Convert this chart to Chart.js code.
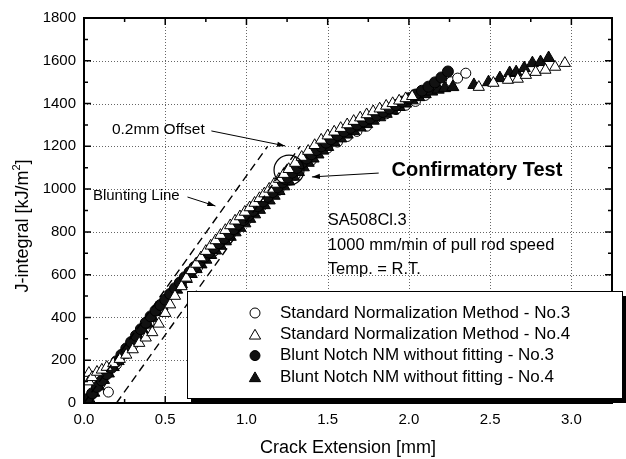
<!DOCTYPE html>
<html>
<head>
<meta charset="utf-8">
<script src="https://cdn.jsdelivr.net/npm/chart.js@4.4.1/dist/chart.umd.min.js"></script>
<style>
html,body{margin:0;padding:0;background:#fff;}
canvas{display:block;}
</style>
</head>
<body>
<canvas id="c" width="626" height="459"></canvas>
<script>
// ---------------- data ----------------
const xTickValues = [0, 0.5, 1.0, 1.5, 2.0, 2.5, 3.0];
const xTickLabels = ['0.0', '0.5', '1.0', '1.5', '2.0', '2.5', '3.0'];
const yTickValues = [0, 200, 400, 600, 800, 1000, 1200, 1400, 1600, 1800];
const yTickLabels = ['0', '200', '400', '600', '800', '1000', '1200', '1400', '1600', '1800'];

const seriesNames = [
  'Standard Normalization Method - No.3',
  'Standard Normalization Method - No.4',
  'Blunt Notch NM without fitting - No.3',
  'Blunt Notch NM without fitting - No.4'
];

// Standard Normalization Method - No.3 (open circles)
const stdNo3 = [
  [0.15,51],[0.05,40],[0.10,90],[0.20,180],[0.30,270],[0.40,370],[0.50,465],[0.60,555],
  [0.70,635],[0.80,710],[0.90,785],[1.00,855],[1.10,925],[1.20,995],[1.30,1065],[1.40,1135],
  [1.50,1192],[1.56,1220],[1.62,1246],[1.68,1270],[1.74,1294],[1.80,1335],[1.86,1352],
  [1.92,1372],[1.98,1392],[2.04,1410],[2.10,1438],[2.16,1470],[2.22,1496],[2.26,1502],
  [2.30,1519],[2.35,1542]
];

// Standard Normalization Method - No.4 (open triangles)
const stdNo4 = [
  [0.03,140],[0.03,100],[0.05,120],[0.08,145],[0.11,155],[0.14,168],[0.18,185],[0.22,205],
  [0.26,225],[0.30,250],[0.34,280],[0.38,305],[0.42,330],[0.46,370],[0.50,420],[0.53,460],
  [0.56,500],[0.60,545],[0.63,585],[0.66,620],[0.69,650],[0.72,680],[0.75,710],[0.78,735],
  [0.81,760],[0.84,785],[0.87,808],[0.90,830],[0.93,852],[0.96,872],[0.99,893],[1.02,914],
  [1.05,935],[1.08,957],[1.11,979],[1.14,1001],[1.17,1024],[1.20,1047],[1.23,1070],[1.26,1093],
  [1.30,1122],[1.34,1150],[1.38,1178],[1.42,1205],[1.46,1230],[1.50,1250],[1.54,1268],
  [1.58,1285],[1.62,1302],[1.66,1318],[1.70,1334],[1.74,1349],[1.78,1363],[1.82,1376],
  [1.86,1389],[1.90,1401],[1.94,1413],[1.98,1424],[2.02,1434],
  [2.43,1477],[2.52,1496],[2.61,1510],[2.67,1515],[2.72,1533],[2.78,1547],[2.84,1557],
  [2.90,1571],[2.96,1589]
];

// Blunt Notch NM without fitting - No.3 (filled circles)
const bnNo3 = [
  [0.02,18],[0.05,45],[0.08,75],[0.11,105],[0.14,135],[0.17,165],[0.20,195],[0.23,225],
  [0.26,255],[0.29,285],[0.32,315],[0.35,345],[0.38,375],[0.41,405],[0.44,432],[0.47,458],
  [0.50,483],[0.53,510],[0.56,537],[0.59,563],[0.62,588],[0.65,612],[0.68,636],[0.71,659],
  [0.74,681],[0.77,703],[0.80,725],[0.83,747],[0.86,769],[0.89,791],[0.92,813],[0.95,834],
  [0.98,855],[1.01,876],[1.04,898],[1.07,920],[1.10,942],[1.13,964],[1.16,986],[1.19,1008],
  [1.22,1031],[1.25,1054],[1.28,1077],[1.31,1099],[1.34,1121],[1.37,1143],[1.40,1163],
  [1.43,1182],[1.46,1200],[1.49,1217],[1.52,1233],[1.56,1252],[1.60,1270],[1.64,1286],
  [1.68,1302],[1.72,1317],[1.76,1331],[1.80,1345],[1.84,1361],[1.88,1377],[1.92,1393],
  [1.96,1409],[2.00,1425],[2.04,1442],[2.08,1460],[2.12,1479],[2.16,1499],[2.20,1522],
  [2.24,1550]
];

// Blunt Notch NM without fitting - No.4 (filled triangles)
const bnNo4 = [
  [0.03,20],[0.06,48],[0.09,78],[0.12,108],[0.15,138],[0.18,168],[0.21,196],[0.24,226],
  [0.27,256],[0.30,285],[0.33,313],[0.36,342],[0.39,370],[0.42,398],[0.45,425],[0.48,452],
  [0.51,478],[0.54,505],[0.57,530],[0.60,555],[0.63,580],[0.66,603],[0.69,626],[0.72,648],
  [0.75,670],[0.78,692],[0.81,713],[0.84,735],[0.87,756],[0.90,777],[0.93,798],[0.96,819],
  [0.99,840],[1.02,861],[1.05,882],[1.08,903],[1.11,925],[1.14,947],[1.17,969],[1.20,991],
  [1.23,1013],[1.26,1036],[1.29,1058],[1.32,1080],[1.35,1102],[1.38,1123],[1.41,1143],
  [1.44,1162],[1.47,1180],[1.50,1197],[1.54,1218],[1.58,1237],[1.62,1255],[1.66,1272],
  [1.70,1288],[1.74,1304],[1.78,1320],[1.82,1336],[1.86,1352],[1.90,1368],[1.94,1384],
  [1.98,1400],[2.02,1415],[2.06,1430],[2.10,1444],[2.14,1456],[2.18,1465],[2.22,1472],
  [2.27,1477],[2.40,1487],[2.49,1500],[2.56,1519],[2.62,1543],[2.66,1547],[2.71,1566],
  [2.76,1589],[2.81,1594],[2.86,1613]
];

// construction lines
const bluntingLine = [[0, 0], [1.13, 1200]];
const offsetLine = [[0.2, 0], [1.33, 1200]];
// confirmatory test point
const confirmPoint = [1.262, 1089];

const infoLines = ['SA508Cl.3', '1000 mm/min of pull rod speed', 'Temp. = R.T.'];

// ---------------- rendering ----------------
const FONT = '"Liberation Sans", Arial, Helvetica, sans-serif';
const toXY = arr => arr.map(p => ({x: p[0], y: p[1]}));

function drawMarker(ctx, style, filled, x, y, r) {
  ctx.beginPath();
  if (style === 'circle') {
    ctx.arc(x, y, r, 0, Math.PI * 2);
  } else {
    let rad = 0;
    ctx.moveTo(x + Math.sin(rad) * r, y - Math.cos(rad) * r);
    rad += Math.PI * 2 / 3;
    ctx.lineTo(x + Math.sin(rad) * r, y - Math.cos(rad) * r);
    rad += Math.PI * 2 / 3;
    ctx.lineTo(x + Math.sin(rad) * r, y - Math.cos(rad) * r);
  }
  ctx.closePath();
  ctx.fillStyle = filled ? '#111' : '#fff';
  ctx.fill();
  ctx.lineWidth = 1;
  ctx.strokeStyle = '#000';
  ctx.stroke();
}

function arrow(ctx, x1, y1, x2, y2) {
  ctx.beginPath();
  ctx.moveTo(x1, y1);
  ctx.lineTo(x2, y2);
  ctx.lineWidth = 1;
  ctx.strokeStyle = '#000';
  ctx.stroke();
  const a = Math.atan2(y2 - y1, x2 - x1);
  const L = 8, W = 2.6;
  ctx.beginPath();
  ctx.moveTo(x2, y2);
  ctx.lineTo(x2 - L * Math.cos(a) + W * Math.sin(a), y2 - L * Math.sin(a) - W * Math.cos(a));
  ctx.lineTo(x2 - L * Math.cos(a) - W * Math.sin(a), y2 - L * Math.sin(a) + W * Math.cos(a));
  ctx.closePath();
  ctx.fillStyle = '#000';
  ctx.fill();
}

const gridPlugin = {
  id: 'gridPlugin',
  beforeDatasetsDraw(chart) {
    const {ctx, chartArea: {left, right, top, bottom}, scales: {x, y}} = chart;
    ctx.save();
    ctx.strokeStyle = 'rgba(0,0,0,0.6)';
    ctx.lineWidth = 1;
    ctx.setLineDash([1, 2]);
    xTickValues.forEach(v => {
      if (v <= x.min || v >= x.max) return;
      const px = Math.round(x.getPixelForValue(v)) + 0.5;
      ctx.beginPath(); ctx.moveTo(px, top); ctx.lineTo(px, bottom); ctx.stroke();
    });
    yTickValues.forEach(v => {
      if (v <= y.min || v >= y.max) return;
      const py = Math.round(y.getPixelForValue(v)) + 0.5;
      ctx.beginPath(); ctx.moveTo(left, py); ctx.lineTo(right, py); ctx.stroke();
    });
    ctx.restore();
  },
  afterDatasetsDraw(chart) {
    const {ctx, chartArea: {left, right, top, bottom}, scales: {x, y}} = chart;
    ctx.save();
    ctx.strokeStyle = '#000';
    ctx.lineWidth = 2;
    ctx.setLineDash([]);
    ctx.strokeRect(left, top, right - left, bottom - top);
    ctx.lineWidth = 1.5;
    const majX = 7, minX = 4;
    const xs = [];
    for (let i = 0; i < xTickValues.length; i++) {
      xs.push([xTickValues[i], majX]);
      if (i < xTickValues.length - 1) xs.push([(xTickValues[i] + xTickValues[i + 1]) / 2, minX]);
    }
    xs.forEach(([v, len]) => {
      if (v <= x.min || v >= x.max) return;
      const px = x.getPixelForValue(v);
      ctx.beginPath();
      ctx.moveTo(px, bottom); ctx.lineTo(px, bottom - len);
      ctx.moveTo(px, top); ctx.lineTo(px, top + len);
      ctx.stroke();
    });
    const ys = [];
    for (let i = 0; i < yTickValues.length; i++) {
      ys.push([yTickValues[i], majX]);
      if (i < yTickValues.length - 1) ys.push([(yTickValues[i] + yTickValues[i + 1]) / 2, minX]);
    }
    ys.forEach(([v, len]) => {
      if (v <= y.min || v >= y.max) return;
      const py = y.getPixelForValue(v);
      ctx.beginPath();
      ctx.moveTo(left, py); ctx.lineTo(left + len, py);
      ctx.moveTo(right, py); ctx.lineTo(right - len, py);
      ctx.stroke();
    });
    ctx.restore();
  },
  afterDraw(chart) {
    const {ctx, chartArea: {left, right, top, bottom}, scales: {x, y}} = chart;
    const X = v => x.getPixelForValue(v), Y = v => y.getPixelForValue(v);
    ctx.save();
    ctx.fillStyle = '#000';
    ctx.textBaseline = 'middle';
    ctx.textAlign = 'left';

    // confirmatory circle
    ctx.beginPath();
    ctx.arc(X(confirmPoint[0]), Y(confirmPoint[1]), 15, 0, Math.PI * 2);
    ctx.lineWidth = 1.2;
    ctx.strokeStyle = '#000';
    ctx.stroke();

    // annotations
    ctx.font = '15.5px ' + FONT;
    ctx.fillText('0.2mm Offset', X(0.172), Y(1276));
    arrow(ctx, X(0.784), Y(1272), X(1.238), Y(1202));
    ctx.font = '15px ' + FONT;
    ctx.fillText('Blunting Line', X(0.055), Y(968));
    arrow(ctx, X(0.637), Y(963), X(0.809), Y(921));
    ctx.font = 'bold 20px ' + FONT;
    ctx.fillText('Confirmatory Test', X(1.893), Y(1085));
    arrow(ctx, X(1.814), Y(1075), X(1.403), Y(1057));

    // info text
    ctx.font = '16.5px ' + FONT;
    ctx.textBaseline = 'alphabetic';
    infoLines.forEach((t, i) => ctx.fillText(t, X(1.501), Y(832) + i * 24.5));

    // y axis title
    ctx.save();
    ctx.translate(23, 226);
    ctx.rotate(-Math.PI / 2);
    ctx.textBaseline = 'middle';
    const main = 'J-integral [kJ/m';
    const sup = '2';
    const close = ']';
    ctx.font = '18px ' + FONT;
    const wMain = ctx.measureText(main).width;
    const wClose = ctx.measureText(close).width;
    ctx.font = '11px ' + FONT;
    const wSup = ctx.measureText(sup).width;
    const total = wMain + wSup + wClose;
    ctx.textAlign = 'left';
    const sx = -total / 2;
    ctx.font = '18px ' + FONT;
    ctx.fillText(main, sx, 0);
    ctx.font = '11px ' + FONT;
    ctx.fillText(sup, sx + wMain, -6);
    ctx.font = '18px ' + FONT;
    ctx.fillText(close, sx + wMain + wSup, 0);
    ctx.restore();

    // legend box
    const bx = 187, by = 291, bw = 435, bh = 107;
    ctx.fillStyle = '#000';
    ctx.fillRect(bx + 4, by + 5, bw, bh);
    ctx.fillStyle = '#fff';
    ctx.fillRect(bx, by, bw, bh);
    ctx.lineWidth = 1;
    ctx.strokeStyle = '#000';
    ctx.strokeRect(bx + 0.5, by + 0.5, bw, bh);
    const styles = [['circle', false, 5], ['triangle', false, 6.5], ['circle', true, 5], ['triangle', true, 6.5]];
    ctx.font = '17px ' + FONT;
    ctx.textBaseline = 'middle';
    seriesNames.forEach((name, i) => {
      const ry = 313 + i * 21.3;
      const s = styles[i];
      drawMarker(ctx, s[0], s[1], 255, s[0] === 'triangle' ? ry + 1.5 : ry, s[2]);
      ctx.fillStyle = '#000';
      ctx.fillText(name, 280, ry);
    });
    ctx.restore();
  }
};

const pointDs = (label, arr, style, filled, r, order) => ({
  label,
  data: toXY(arr),
  pointStyle: style,
  pointRadius: r,
  pointBorderWidth: 1,
  pointBackgroundColor: filled ? '#111' : '#fff',
  pointBorderColor: '#000',
  showLine: false,
  order
});

new Chart(document.getElementById('c'), {
  type: 'scatter',
  data: {
    datasets: [
      {label: 'Blunting Line', data: toXY(bluntingLine), showLine: true, borderColor: '#000',
       borderWidth: 1.4, borderDash: [8, 5], pointRadius: 0, order: 0, clip: false},
      {label: '0.2mm Offset', data: toXY(offsetLine), showLine: true, borderColor: '#000',
       borderWidth: 1.4, borderDash: [8, 5], pointRadius: 0, order: 0, clip: false},
      pointDs(seriesNames[1], stdNo4, 'triangle', false, 6.5, 1),
      pointDs(seriesNames[2], bnNo3, 'circle', true, 5.5, 2),
      pointDs(seriesNames[3], bnNo4, 'triangle', true, 7, 3),
      pointDs(seriesNames[0], stdNo3, 'circle', false, 5, 4)
    ]
  },
  options: {
    responsive: false,
    animation: false,
    events: [],
    layout: {padding: {top: 18, right: 14, left: 0, bottom: 0}},
    plugins: {legend: {display: false}, tooltip: {enabled: false}, title: {display: false}},
    scales: {
      x: {
        type: 'linear', min: 0, max: 3.25,
        grid: {display: false, drawTicks: false},
        border: {display: false},
        afterBuildTicks: s => { s.ticks = xTickValues.map(v => ({value: v})); },
        afterFit: s => { s.height = 56; },
        ticks: {
          padding: 8, color: '#000', font: {family: FONT, size: 15},
          maxRotation: 0, autoSkip: false,
          callback: (v, i) => xTickLabels[i]
        },
        title: {display: true, text: 'Crack Extension [mm]', color: '#000',
                font: {family: FONT, size: 18}, padding: {top: 0, bottom: 0}}
      },
      y: {
        type: 'linear', min: 0, max: 1800,
        grid: {display: false, drawTicks: false},
        border: {display: false},
        afterBuildTicks: s => { s.ticks = yTickValues.map(v => ({value: v})); },
        afterFit: s => { s.width = 84; },
        ticks: {
          padding: 8, color: '#000', font: {family: FONT, size: 15}, autoSkip: false,
          callback: (v, i) => yTickLabels[i]
        },
        title: {display: false}
      }
    }
  },
  plugins: [gridPlugin]
});
</script>
</body>
</html>
